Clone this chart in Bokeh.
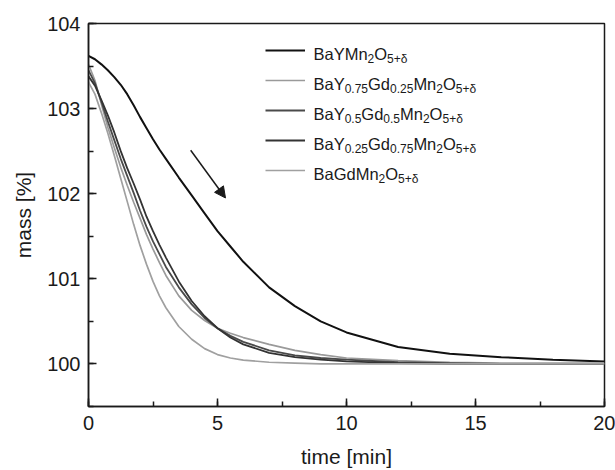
from bokeh.plotting import figure
from bokeh.models import (Range1d, SingleIntervalTicker, Legend, LegendItem, Label,
                          Arrow, NormalHead)
from bokeh.embed import file_html
from bokeh.resources import INLINE

# ---- data ----
time_min = [0, 0.25, 0.5, 0.75, 1, 1.25, 1.5, 1.75, 2, 2.25, 2.5, 2.75, 3, 3.5, 4, 4.5, 5, 5.5,
            6, 7, 8, 9, 10, 12, 14, 16, 18, 20]

mass_BaY = [103.62, 103.58, 103.52, 103.45, 103.37, 103.28, 103.17, 103.04, 102.90, 102.77,
            102.64, 102.52, 102.41, 102.19, 101.98, 101.77, 101.56, 101.38, 101.20, 100.90,
            100.68, 100.50, 100.37, 100.20, 100.12, 100.08, 100.05, 100.03]
mass_Y075 = [103.52, 103.33, 103.05, 102.78, 102.54, 102.31, 102.10, 101.90, 101.71, 101.52,
             101.35, 101.19, 101.04, 100.80, 100.63, 100.51, 100.42, 100.36, 100.31, 100.23,
             100.16, 100.11, 100.07, 100.04, 100.02, 100.01, 100.01, 100.01]
mass_Y05 = [103.45, 103.30, 103.08, 102.85, 102.63, 102.41, 102.21, 102.01, 101.80, 101.61,
            101.44, 101.29, 101.14, 100.90, 100.70, 100.54, 100.42, 100.33, 100.26, 100.16,
            100.10, 100.07, 100.05, 100.02, 100.01, 100.00, 100.00, 100.00]
mass_Y025 = [103.38, 103.27, 103.10, 102.92, 102.72, 102.50, 102.30, 102.12, 101.93, 101.73,
             101.56, 101.40, 101.25, 100.97, 100.74, 100.56, 100.42, 100.31, 100.23, 100.13,
             100.08, 100.05, 100.03, 100.01, 100.00, 100.00, 100.00, 100.00]
mass_BaGd = [103.31, 103.17, 102.95, 102.71, 102.45, 102.18, 101.91, 101.64, 101.39, 101.17,
             100.97, 100.80, 100.66, 100.44, 100.29, 100.18, 100.11, 100.07, 100.045, 100.02,
             100.01, 100.00, 100.00, 100.00, 100.00, 100.00, 100.00, 100.00]

# legend labels as (text, is_subscript) pieces
labels = [
    [("BaYMn", 0), ("2", 1), ("O", 0), ("5+\u03b4", 1)],
    [("BaY", 0), ("0.75", 1), ("Gd", 0), ("0.25", 1), ("Mn", 0), ("2", 1), ("O", 0), ("5+\u03b4", 1)],
    [("BaY", 0), ("0.5", 1), ("Gd", 0), ("0.5", 1), ("Mn", 0), ("2", 1), ("O", 0), ("5+\u03b4", 1)],
    [("BaY", 0), ("0.25", 1), ("Gd", 0), ("0.75", 1), ("Mn", 0), ("2", 1), ("O", 0), ("5+\u03b4", 1)],
    [("BaGdMn", 0), ("2", 1), ("O", 0), ("5+\u03b4", 1)],
]
series = [mass_BaY, mass_Y075, mass_Y05, mass_Y025, mass_BaGd]
colors = ["#111111", "#9a9a9a", "#4a4a4a", "#333333", "#a0a0a0"]
widths = [2.0, 1.7, 1.8, 1.8, 1.7]

arrow_start = (3.96, 102.51)
arrow_end = (5.31, 101.95)

FONT = "Liberation Sans"

p = figure(width=615, height=470, output_backend="svg", toolbar_location=None,
           x_range=Range1d(0, 20), y_range=Range1d(99.5, 104),
           min_border_left=88, min_border_top=23, min_border_right=11, min_border_bottom=10)
p.background_fill_color = "white"
p.border_fill_color = "white"
p.outline_line_color = "#1a1a1a"
p.outline_line_width = 1.5
p.xgrid.visible = False
p.ygrid.visible = False

p.xaxis.ticker = SingleIntervalTicker(interval=5, num_minor_ticks=2)
p.yaxis.ticker = SingleIntervalTicker(interval=1, num_minor_ticks=2)
for ax in (p.xaxis[0], p.yaxis[0]):
    ax.axis_line_color = "#1a1a1a"
    ax.axis_line_width = 1.5
    ax.major_tick_in = 8
    ax.major_tick_out = 0
    ax.minor_tick_in = 5
    ax.minor_tick_out = 0
    ax.major_tick_line_width = 1.5
    ax.minor_tick_line_width = 1.5
    ax.major_tick_line_color = "#1a1a1a"
    ax.minor_tick_line_color = "#1a1a1a"
    ax.major_label_text_font = FONT
    ax.major_label_text_font_size = "20px"
    ax.major_label_text_color = "#1a1a1a"
    ax.axis_label_text_font = FONT
    ax.axis_label_text_font_size = "21px"
    ax.axis_label_text_font_style = "normal"
    ax.axis_label_text_color = "#1a1a1a"
p.xaxis.axis_label = "time [min]"
p.yaxis.axis_label = "mass [%]"
p.xaxis.major_label_standoff = 9
p.xaxis.axis_label_standoff = 12
p.yaxis.major_label_standoff = 8
p.yaxis.axis_label_standoff = 9

renderers = []
for ys, c, w in zip(series, colors, widths):
    renderers.append(p.line(time_min, ys, line_color=c, line_width=w))

p.add_layout(Arrow(end=NormalHead(size=11, fill_color="#1a1a1a", line_color="#1a1a1a"),
                   x_start=arrow_start[0], y_start=arrow_start[1],
                   x_end=arrow_end[0], y_end=arrow_end[1],
                   line_color="#1a1a1a", line_width=1.5))

# legend line samples
leg = Legend(items=[LegendItem(label=" ", renderers=[r]) for r in renderers],
             location=(177, 226), padding=0, margin=0, spacing=10,
             glyph_width=40, glyph_height=20, label_height=20, label_width=1,
             label_standoff=0, label_text_font_size="2px",
             border_line_alpha=0, background_fill_alpha=0)
p.add_layout(leg)

# legend texts with subscripts
W = {"B": 667, "a": 556, "Y": 667, "M": 833, "n": 556, "O": 778, "G": 778, "d": 556,
     "0": 556, "2": 556, "5": 556, "7": 556, ".": 278, "+": 584, "\u03b4": 556}
MAIN, SUB = 16.5, 12.0
text_x0 = 8.72          # data x of text start
row_y0 = 103.645        # data y of first baseline
row_step = 30 / 85.0    # rows are 30 px apart
for i, parts in enumerate(labels):
    dx = 0.0
    for txt, sub in parts:
        size = SUB if sub else MAIN
        p.add_layout(Label(x=text_x0, y=row_y0 - i * row_step, x_offset=dx,
                           y_offset=-5 if sub else 0, text=txt,
                           text_font=FONT, text_font_size=f"{size}px",
                           text_color="#1a1a1a", text_baseline="alphabetic"))
        dx += sum(W.get(ch, 556) for ch in txt) * size / 1000.0

open("out.html", "w").write(file_html(p, INLINE))
